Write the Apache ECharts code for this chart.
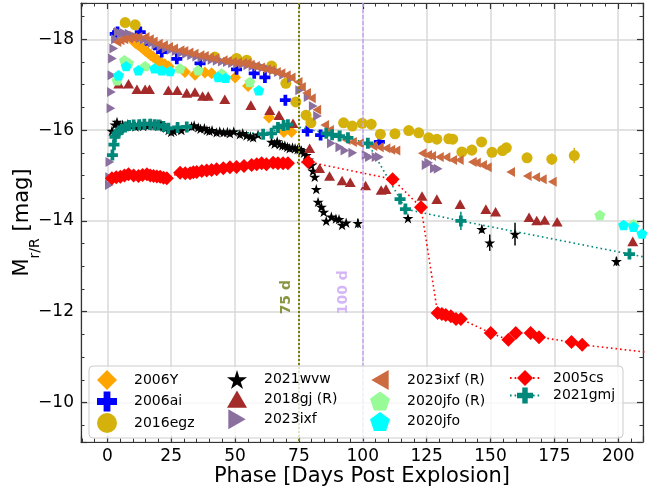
<!DOCTYPE html>
<html><head><meta charset="utf-8">
<script src="https://cdn.jsdelivr.net/npm/echarts@6/dist/echarts.min.js"></script>
<style>html,body{margin:0;padding:0;background:#fff}#c{width:665px;height:491px}</style>
</head><body><div id="c"></div>
<script>
// ---------- data: [phase (days), magnitude] ----------
const sn2006Y = [[9.0,-18.05],[10.0,-17.98],[11.0,-17.92],[12.0,-17.88],[13.0,-17.84],[14.0,-17.79],[15.0,-17.74],[16.0,-17.70],[17.0,-17.65],[18.0,-17.61],[19.0,-17.57],[20.0,-17.53],[21.0,-17.49],[22.5,-17.45],[24.0,-17.40],[30.4,-17.28],[34.3,-17.22],[38.2,-17.27],[40.8,-17.25],[50.0,-17.16],[55.1,-16.97],[63.3,-16.28],[69.1,-15.96],[72.1,-15.96]];
const sn2006ai = [[3.1,-18.12],[4.0,-18.16],[12.9,-18.16],[15.5,-17.98],[20.0,-17.80],[21.3,-17.72],[27.2,-17.57],[36.3,-17.47],[50.6,-17.34],[57.5,-17.25],[61.7,-17.16],[69.7,-16.66],[78.3,-15.98],[83.5,-15.89],[106.5,-15.74]];
const sn2016egz = [[7.0,-18.37],[10.9,-18.32],[42.1,-17.61],[50.6,-17.58],[54.6,-17.54],[64.3,-17.41],[69.9,-17.03],[73.8,-16.62],[77.8,-16.33],[79.7,-16.16],[92.5,-16.16],[95.9,-16.09],[99.8,-16.15],[103.3,-16.13],[106.9,-15.91],[112.6,-15.92],[118.0,-15.99],[121.9,-15.94],[125.8,-15.83],[129.0,-15.80],[133.7,-15.81],[135.2,-15.80],[138.8,-15.52],[142.7,-15.56],[146.5,-15.74],[150.6,-15.51],[154.7,-15.55],[156.2,-15.61],[164.3,-15.39],[174.0,-15.36],[182.8,-15.44]];
const sn2016egzErr = [[103.3,-16.13,0.12],[112.6,-15.92,0.1],[142.7,-15.56,0.12],[156.2,-15.61,0.08],[164.3,-15.39,0.06],[174.0,-15.36,0.13],[182.8,-15.44,0.17]];
const sn2021wvw = [[1.8,-15.98],[3.0,-16.12],[3.8,-16.18],[5,-16.1],[6,-16.12],[7,-16.08],[8,-16.13],[9,-16.1],[10,-16.12],[11,-16.08],[12,-16.1],[13,-16.13],[14,-16.09],[15,-16.12],[16,-16.1],[17,-16.14],[18,-16.11],[19,-16.12],[20,-16.09],[21,-16.13],[22,-16.08],[23,-16.05],[24,-16.0],[25,-15.96],[26,-15.98],[27,-16.02],[29,-16.0],[33,-16.08],[34,-16.1],[35.6,-16.06],[36.5,-16.03],[38,-16.04],[39,-16.0],[40,-15.98],[41,-16.0],[42.8,-15.95],[44,-15.97],[45.5,-15.95],[47,-15.96],[48,-15.93],[49.5,-15.97],[51.9,-15.91],[53,-15.93],[54.5,-15.88],[56,-15.86],[57.1,-15.84],[59,-15.9],[64.3,-15.74],[65.5,-15.7],[66.5,-15.75],[67.5,-15.69],[68.5,-15.66],[69.5,-15.66],[70.5,-15.63],[71.4,-15.6],[72.5,-15.62],[73.5,-15.6],[74.5,-15.58],[75.3,-15.58],[76,-15.55],[77,-15.5],[77.9,-15.45],[78.8,-15.35],[79.9,-15.23],[80.5,-15.1],[81.2,-14.97],[81.8,-14.7],[82.5,-14.42],[83.8,-14.31],[84.7,-14.2],[85.7,-14.0],[87.7,-14.09],[89.5,-14.05],[90.7,-14.04],[91.9,-13.91],[93.5,-13.96],[98.1,-13.95],[117.7,-14.06],[146.6,-13.82],[149.7,-13.52],[159.6,-13.71],[199.3,-13.11]];
const sn2021wvwErr = [[98.1,-13.95,0.1],[146.6,-13.82,0.08],[149.7,-13.52,0.18],[159.6,-13.71,0.25],[199.3,-13.11,0.1]];
const sn2018gj = [[4.5,-17.02],[8.3,-17.02],[11.6,-16.9],[14.8,-16.9],[16.5,-16.9],[23.9,-16.88],[27.4,-16.88],[31.1,-16.82],[34.3,-16.84],[37.3,-16.75],[39.5,-16.75],[46.0,-16.68],[56.2,-16.55],[63.6,-16.44],[67.2,-16.33],[72.7,-16.15],[79.2,-15.6],[83.1,-15.16],[87.0,-14.99],[91.9,-14.89],[95.1,-14.85],[101.1,-14.78],[107.2,-14.68],[109.1,-14.7],[123.2,-14.55],[129.0,-14.48],[138.1,-14.37],[148.2,-14.26],[152.0,-14.2],[165.1,-14.08],[168.1,-14.01],[171.2,-14.02],[176.1,-13.98],[205.7,-13.55]];
const sn2023ixf = [[0.8,-14.79],[0.9,-14.96],[1.0,-15.3],[1.4,-16.48],[1.6,-16.84],[1.8,-17.21],[2.0,-17.58],[2.5,-17.8],[3.2,-18.0],[4.3,-18.16],[5.5,-18.12],[6.5,-18.14],[7.5,-18.1],[8.5,-18.12],[10,-18.08],[11.5,-18.05],[13,-18.03],[14.5,-18.0],[16,-17.97],[17.5,-17.92],[19,-17.88],[21,-17.84],[23,-17.8],[25,-17.77],[27,-17.74],[29,-17.7],[31,-17.68],[33,-17.65],[35,-17.62],[37,-17.6],[39,-17.58],[41,-17.55],[43,-17.53],[45,-17.51],[47,-17.5],[49,-17.48],[51,-17.46],[53,-17.45],[55,-17.43],[57,-17.41],[59,-17.4],[61,-17.38],[63,-17.35],[65,-17.32],[67,-17.28],[69,-17.22],[72.1,-17.14],[75.3,-16.88],[78.6,-16.73],[80.6,-16.53],[82.3,-16.31],[87.7,-15.71],[91.0,-15.62],[93,-15.55],[96.1,-15.5],[101.3,-15.45],[102.6,-15.41],[105.2,-15.41],[106.5,-15.41],[124.8,-15.23],[125.8,-15.28],[128.0,-15.16],[129.5,-15.15]];
const sn2023ixfR = [[3.8,-17.94],[5,-17.98],[6.5,-18.0],[8.3,-18.02],[10,-18.04],[12,-18.05],[14.8,-18.05],[16.5,-18.0],[18,-17.95],[20,-17.9],[22,-17.87],[24,-17.83],[26,-17.8],[28.5,-17.76],[30,-17.74],[32,-17.71],[34,-17.68],[36.3,-17.65],[38,-17.63],[40,-17.6],[42,-17.58],[45.4,-17.54],[47,-17.52],[49,-17.5],[51,-17.49],[53,-17.48],[54.5,-17.47],[56,-17.44],[58,-17.41],[60,-17.38],[62.3,-17.34],[64,-17.32],[66.2,-17.28],[68,-17.25],[70.1,-17.21],[72,-17.16],[74.7,-17.06],[76,-16.95],[78,-16.82],[79.9,-16.7],[82,-16.45],[85.1,-16.11],[87,-16.0],[90,-15.88],[93.5,-15.78],[96,-15.74],[98.7,-15.71],[104,-15.65],[106.5,-15.62],[109.1,-15.6],[111,-15.57],[113,-15.55],[123.3,-15.49],[125.4,-15.45],[127,-15.43],[130,-15.41],[132.6,-15.4],[135.2,-15.34],[137.8,-15.34],[142.9,-15.3],[144.5,-15.28],[146.9,-15.23],[148.8,-15.18],[157.9,-15.08],[164.4,-14.99],[167.7,-14.96],[170.3,-14.92],[174.2,-14.86]];
const sn2020jfoR = [[3.8,-17.1],[6.7,-17.54],[8.3,-17.48],[14.8,-17.41],[28.5,-17.36],[35.6,-17.32],[44.7,-17.25],[55.8,-17.06],[192.8,-14.13],[206.0,-13.93]];
const sn2020jfo = [[4.4,-17.21],[7.4,-17.41],[12.2,-17.32],[18.5,-17.36],[21.3,-17.32],[24.6,-17.3],[43.4,-17.17],[46.3,-17.15],[59.3,-16.88],[202.1,-13.91],[206.0,-13.87],[209.3,-13.72]];
const sn2005cs = [[1.8,-14.94],[3.5,-14.96],[5.1,-14.97],[6.7,-15.0],[8.3,-15.03],[10.3,-15.0],[12.2,-14.99],[13.8,-15.01],[15.5,-15.03],[16.8,-15.0],[18.1,-14.99],[19.4,-14.98],[20.7,-14.97],[22.0,-14.95],[23.3,-14.94],[28.5,-15.06],[30.5,-15.05],[32.4,-15.05],[33.7,-15.07],[35.0,-15.08],[37.0,-15.1],[38.9,-15.11],[40.8,-15.12],[42.8,-15.14],[45.4,-15.16],[48.0,-15.18],[50.6,-15.19],[53.5,-15.21],[56.5,-15.23],[58.5,-15.25],[60.4,-15.27],[62.3,-15.25],[64.9,-15.28],[66.8,-15.27],[68.8,-15.27],[70.7,-15.27],[78.6,-15.3],[111.7,-14.92],[122.8,-14.3],[129.3,-11.97],[131.0,-11.95],[132.5,-11.93],[134.5,-11.9],[136.5,-11.84],[138.4,-11.84],[150.1,-11.53],[157.0,-11.38],[159.9,-11.53],[165.7,-11.53],[169.0,-11.44],[181.7,-11.33],[185.9,-11.27],[228.0,-11.0]];
const sn2021gmj = [[2.0,-15.45],[2.6,-15.68],[3.0,-15.85],[3.8,-15.93],[4.5,-15.98],[5.7,-16.02],[7.0,-16.07],[8.5,-16.1],[10.3,-16.11],[12.5,-16.12],[14.5,-16.13],[16.8,-16.13],[18.5,-16.12],[20.0,-16.11],[22.0,-16.08],[23.9,-16.04],[27.5,-16.06],[31.1,-16.07],[61.0,-15.91],[64.3,-15.93],[66.8,-16.06],[69.0,-16.1],[70.7,-16.12],[85.7,-15.93],[88.0,-15.9],[90.9,-15.87],[94.2,-15.83],[102.0,-15.71],[114.6,-14.48],[116.7,-14.26],[138.4,-14.0],[204.4,-13.27],[215.0,-13.15]];
const sn2021gmjErr = [[138.4,-14.0,0.2]];
const phaseMarks = [75, 100];
const phaseMarkLabels = ['75 d', '100 d'];
const xTickStep = 25, yTickStep = 2;

// ---------- chart ----------
const FONT = 'DejaVu Sans';
const X_MIN = -10.3, X_MAX = 209.7, Y_MIN = -18.8, Y_MAX = -9.13;
const STAR = 'path://M50,0 L61,35 L98,35 L68,57 L79,91 L50,70 L21,91 L32,57 L2,35 L39,35 Z';
const PLUS = 'path://M33,0 H67 V33 H100 V67 H67 V100 H33 V67 H0 V33 H33 Z';
const PENT = 'path://M50,0 L98,35 L79,91 L21,91 L2,35 Z';
const TRI_UP = 'path://M50,0 L100,87 L0,87 Z';
const TRI_RIGHT = 'path://M0,0 L87,50 L0,100 Z';
const TRI_LEFT = 'path://M87,0 L0,50 L87,100 Z';
const minus = v => (v < 0 ? '\u2212' + Math.abs(v) : String(v));

const C = {
  y06Y:'#FFA500', ai:'#0000FF', egz:'#D4B20B', wvw:'#000000', gj:'#A52A2A',
  ixf:'#8B6F9E', ixfR:'#CC6A40', jfoR:'#98FB98', jfo:'#00FFFF', cs:'#FF0000', gmj:'#00897B'
};

function scatter(name, data, color, symbol, size){
  return {name, type:'scatter', data, symbol, symbolSize:size, symbolKeepAspect:true,
    itemStyle:{color, opacity:1}, z:3, clip:true, emphasis:{disabled:true}};
}
function errBars(data, color){
  return {type:'custom', data, z:3, clip:true, silent:true,
    encode:{x:0, y:1},
    renderItem:(p, api)=>{
      const x=api.value(0), y=api.value(1), e=api.value(2);
      const a=api.coord([x,y-e]), b=api.coord([x,y+e]);
      return {type:'line', shape:{x1:a[0],y1:a[1],x2:b[0],y2:b[1]}, style:{stroke:color, lineWidth:1.5}};
    }};
}

const axisCommonX = {type:'value', min:X_MIN, max:X_MAX, minInterval:xTickStep, maxInterval:xTickStep,
  axisLine:{show:true, onZero:false, lineStyle:{color:'#333', width:1.2}},
  axisTick:{show:true, inside:true, length:6, lineStyle:{color:'#333', width:1.2}},
  minorTick:{show:true, splitNumber:5, length:3.5, lineStyle:{color:'#333', width:1}},
};
const axisCommonY = {type:'value', inverse:true, min:Y_MIN, max:Y_MAX, minInterval:yTickStep, maxInterval:yTickStep,
  axisLine:{show:true, onZero:false, lineStyle:{color:'#333', width:1.2}},
  axisTick:{show:true, inside:true, length:6, lineStyle:{color:'#333', width:1.2}},
  minorTick:{show:true, splitNumber:4, length:3.5, lineStyle:{color:'#333', width:1}},
};

const series = [
  scatter('2006Y', sn2006Y, C.y06Y, 'diamond', 12),
  scatter('2006ai', sn2006ai, C.ai, PLUS, 11),
  scatter('2016egz', sn2016egz, C.egz, 'circle', 11),
  errBars(sn2016egzErr, C.egz),
  scatter('2021wvw', sn2021wvw, C.wvw, STAR, 11),
  errBars(sn2021wvwErr, C.wvw),
  scatter('2018gj (R)', sn2018gj, C.gj, TRI_UP, 11),
  scatter('2023ixf', sn2023ixf, C.ixf, TRI_RIGHT, 10),
  scatter('2023ixf (R)', sn2023ixfR, C.ixfR, TRI_LEFT, 10),
  scatter('2020jfo (R)', sn2020jfoR, C.jfoR, PENT, 11),
  scatter('2020jfo', sn2020jfo, C.jfo, PENT, 11),
  {name:'2005cs', type:'line', data:sn2005cs, symbol:'diamond', symbolSize:14, showSymbol:true, z:3,
    itemStyle:{color:C.cs}, lineStyle:{color:C.cs, width:1.6, type:[1.6,3]}, clip:true, emphasis:{disabled:true}},
  {name:'2021gmj', type:'line', data:sn2021gmj, symbol:PLUS, symbolSize:11, showSymbol:true, z:3,
    itemStyle:{color:C.gmj}, lineStyle:{color:C.gmj, width:1.6, type:[1.6,3]}, clip:true, emphasis:{disabled:true}},
  errBars(sn2021gmjErr, C.gmj),
  // vertical phase markers
  {type:'line', data:[], z:1, silent:true,
    markLine:{symbol:'none', silent:true, label:{show:false}, animation:false,
      data:[{xAxis:phaseMarks[0], lineStyle:{color:'#7A8000', width:2, type:[2,2]}},
            {xAxis:phaseMarks[1], lineStyle:{color:'#C9A2F5', width:1.5, type:[4,2]}}]}},
  {type:'scatter', symbolSize:0, silent:true, z:2,
    data:[{value:[phaseMarks[0], -12.32], label:{formatter:phaseMarkLabels[0], color:'#6B7A0F', offset:[0,-13]}},
          {value:[phaseMarks[1], -12.43], label:{formatter:phaseMarkLabels[1], color:'#C9A2F5', offset:[0,-19]}}],
    label:{show:true, position:'inside', rotate:90, fontFamily:FONT, fontWeight:'bold', fontSize:14}}
];

const legendCols = [['2006Y','2006ai','2016egz'],['2021wvw','2018gj (R)','2023ixf'],['2023ixf (R)','2020jfo (R)','2020jfo'],['2005cs','2021gmj']];
const legendX = [107, 237, 380, 524];
const legends = legendCols.map((d,i)=>{
  const w = i === 3 ? 30 : 20;
  return {
    data:d, orient:'vertical', left:legendX[i]-w/2, top:370, itemWidth:w, itemHeight:20, itemGap:1.5,
    selectedMode:false, z:20, padding:0, symbolKeepAspect:true,
    textStyle:{fontFamily:FONT, fontSize:14, color:'#000', padding:[0,0,0, i === 3 ? 8 : 12]}
  };
});

const option = {
  animation:false,
  backgroundColor:'#fff',
  grid:{left:81, right:22, top:3, bottom:49, containLabel:false, outerBoundsMode:'none'},
  xAxis:[
    Object.assign({}, axisCommonX, {position:'bottom',
      name:'Phase [Days Post Explosion]', nameLocation:'middle', nameGap:24, nameMoveOverlap:false,
      nameTextStyle:{fontFamily:FONT, fontSize:21, color:'#000'},
      axisLabel:{show:true, showMinLabel:false, showMaxLabel:false, margin:6, fontFamily:FONT, fontSize:17, color:'#000', formatter:minus},
      splitLine:{show:true, lineStyle:{color:'#d9d9d9', width:1.5}}}),
    Object.assign({}, axisCommonX, {position:'top', axisLabel:{show:false}, splitLine:{show:false}})
  ],
  yAxis:[
    Object.assign({}, axisCommonY, {position:'left',
      name:'{a|M}{b|r/R}{a| [mag]}', nameLocation:'middle', nameGap:45, nameRotate:90, nameMoveOverlap:false,
      nameTextStyle:{fontFamily:FONT, fontSize:21, color:'#000',
        rich:{a:{fontFamily:FONT, fontSize:21, color:'#000', lineHeight:26},
              b:{fontFamily:FONT, fontSize:14, color:'#000', verticalAlign:'bottom', lineHeight:20, padding:[0,0,-6,0]}}},
      axisLabel:{show:true, showMinLabel:false, showMaxLabel:false, margin:7, fontFamily:FONT, fontSize:17, color:'#000', formatter:minus},
      splitLine:{show:true, lineStyle:{color:'#d9d9d9', width:1.5}}}),
    Object.assign({}, axisCommonY, {position:'right', axisLabel:{show:false}, splitLine:{show:false}})
  ],
  legend:legends,
  graphic:[{type:'rect', z:15, silent:true, shape:{x:89, y:366, width:534, height:72, r:4},
    style:{fill:'rgba(255,255,255,0.8)', stroke:'#cccccc', lineWidth:1}}],
  series:series
};

const chart = echarts.init(document.getElementById('c'), null, {renderer:'canvas'});
chart.setOption(option);
</script>
</body></html>
